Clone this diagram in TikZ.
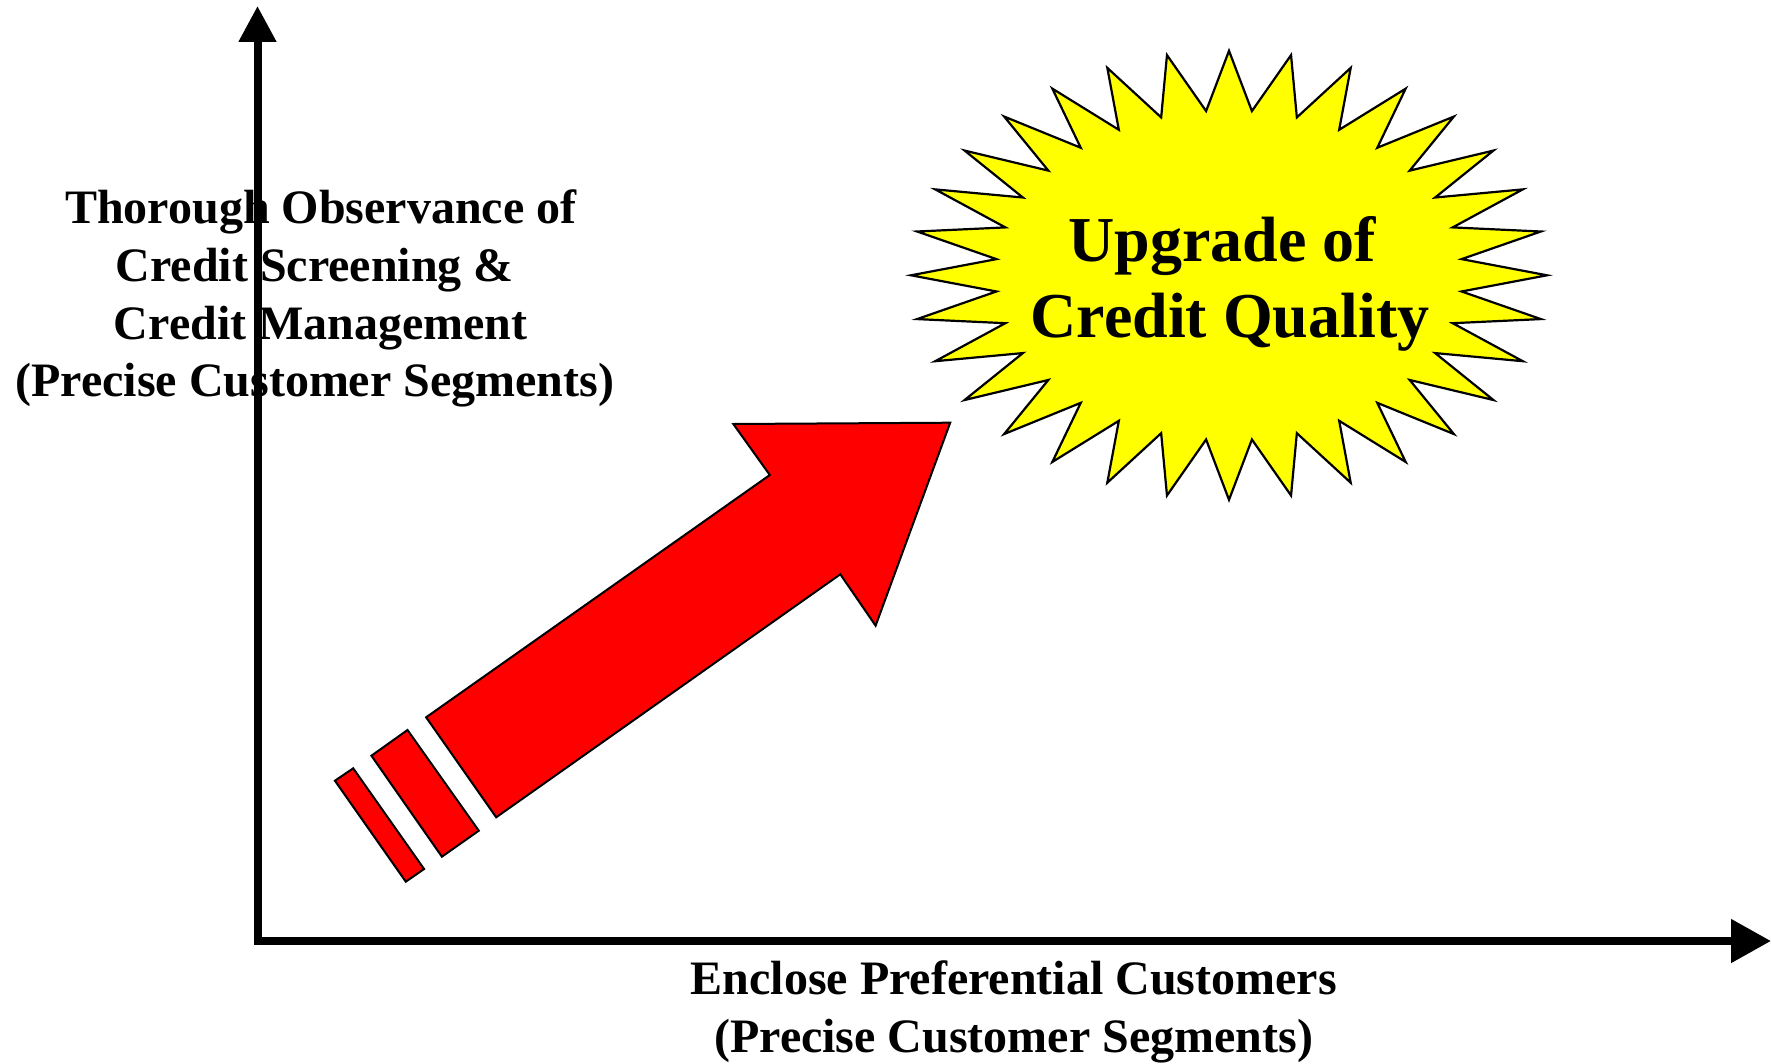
\documentclass[tikz,border=0pt]{standalone}
\usepackage{fontspec}
\setmainfont{Liberation Serif}
\usetikzlibrary{arrows.meta}
\definecolor{pureyellow}{RGB}{255,255,0}
\definecolor{purered}{RGB}{255,0,0}
\begin{document}
\begin{tikzpicture}[x=1pt,y=-1pt,
  lbl/.style={align=center,inner sep=0pt,font=\bfseries\fontsize{48}{57.7}\selectfont},
  startext/.style={align=center,inner sep=0pt,font=\bfseries\fontsize{64}{76}\selectfont},
  redshape/.style={fill=purered,draw=black,line width=2pt,line join=miter},
  starshape/.style={fill=pureyellow,draw=black,line width=2.2pt,line join=miter},
  axisline/.style={line width=8pt,line join=miter}]
\useasboundingbox (0,0) rectangle (1771,1064);

% labels (drawn first: the axis overlaps the y label)
\node[lbl] (ylabel) at (320.8,298.8) {Thorough Observance of\\\mbox{Credit Screening \&\ }\\Credit Management\\\mbox{(Precise Customer Segments)\ }};
\node[lbl] (xlabel) at (1013.7,1012) {Enclose Preferential Customers\\(Precise Customer Segments)};

% axes
\coordinate (ytop) at (257.5,6);
\coordinate (origin) at (257.5,941);
\coordinate (xend) at (1771,941);
\draw[axisline,{Triangle[length=36pt,width=36pt]}-{Triangle[length=40pt,width=42pt]}] (ytop) -- (origin) -- (xend);

% starburst
\draw[starshape] ({1229+318},275.3)
  \foreach \i in {0,...,30} {
    -- ({1229+0.735*318*cos(\i*11.25+5.625)},{275.3-0.735*224.5*sin(\i*11.25+5.625)})
    -- ({1229+318*cos((\i+1)*11.25)},{275.3-224.5*sin((\i+1)*11.25)})
  }
  -- ({1229+0.735*318*cos(31*11.25+5.625)},{275.3-0.735*224.5*sin(31*11.25+5.625)}) -- cycle;
\node[startext] (star) at (1230,284) {\mbox{Upgrade of\ }\\Credit Quality};

% big red arrow
\draw[redshape] (426.1,717.3) -- (769.8,475) -- (733.3,424) -- (950.2,422.7)
  -- (875.6,625.7) -- (840.3,574.3) -- (496.2,817.3) -- cycle;
% stripes
\draw[redshape] (371.4,755.7) -- (407.5,730) -- (478.8,830.7) -- (441.9,856.7) -- cycle;
\draw[redshape] (334.9,780.7) -- (353.2,768.3) -- (424.1,869) -- (405.8,881.7) -- cycle;
\end{tikzpicture}
\end{document}
